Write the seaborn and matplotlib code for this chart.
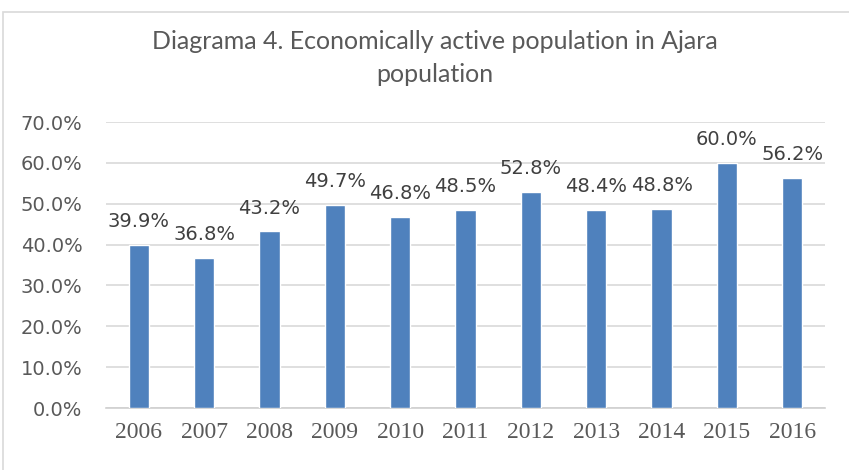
import numpy as np
import pandas as pd
import matplotlib
matplotlib.use("Agg")
import matplotlib.pyplot as plt
import seaborn as sns
from matplotlib.patches import Rectangle
from matplotlib.ticker import FuncFormatter

years = ["2006", "2007", "2008", "2009", "2010", "2011", "2012", "2013", "2014", "2015", "2016"]
share = [39.9, 36.8, 43.2, 49.7, 46.8, 48.5, 52.8, 48.4, 48.8, 60.0, 56.2]
title = "Diagrama 4. Economically active population in Ajara\npopulation"

df = pd.DataFrame({"year": years, "share": share})

sns.set_theme(style="white")
txt = "#595959"

fig = plt.figure(figsize=(8.49, 4.70), dpi=100)
ax = fig.add_axes([106 / 849, 1 - 408 / 470, (825 - 106) / 849, (408 - 122) / 470])

sns.barplot(data=df, x="year", y="share", color="#4F81BD", width=0.31,
            saturation=1, ax=ax, zorder=3)

ax.set_ylim(0, 70)
ax.set_yticks(np.arange(0, 71, 10))
ax.yaxis.set_major_formatter(FuncFormatter(lambda v, p: f"{v:.1f}%"))
ax.grid(axis="y", color="#d9d9d9", linewidth=1.2, zorder=0)
ax.set_xlabel("")
ax.set_ylabel("")
for s in ["top", "right", "left"]:
    ax.spines[s].set_visible(False)
ax.spines["bottom"].set_color("#d0d0d0")
ax.spines["bottom"].set_linewidth(1.2)
ax.tick_params(axis="both", length=0)
ax.tick_params(axis="y", pad=17, labelcolor=txt, labelsize=14)
ax.tick_params(axis="x", pad=10, labelcolor=txt)
for lab in ax.get_yticklabels():
    lab.set_fontfamily("DejaVu Sans")
for lab in ax.get_xticklabels():
    lab.set_fontfamily("Liberation Serif")
    lab.set_fontsize(17)

for p, v in zip(ax.patches, share):
    ax.annotate(f"{v:.1f}%", (p.get_x() + p.get_width() / 2, p.get_height()),
                xytext=(0, 10), textcoords="offset points", ha="center", va="bottom",
                fontsize=14, color="#404040", family="DejaVu Sans")

fig.text(0.512, 1 - 58 / 470, title, ha="center", va="center", fontsize=18,
         color=txt, family="Lato", linespacing=1.55)

fig.patches.append(Rectangle((3 / 849, -0.1), 1.2, 1 - 12 / 470 + 0.1,
                             transform=fig.transFigure, fill=False,
                             edgecolor="#d9d9d9", linewidth=1.2))

fig.savefig("out.png", dpi=100)
